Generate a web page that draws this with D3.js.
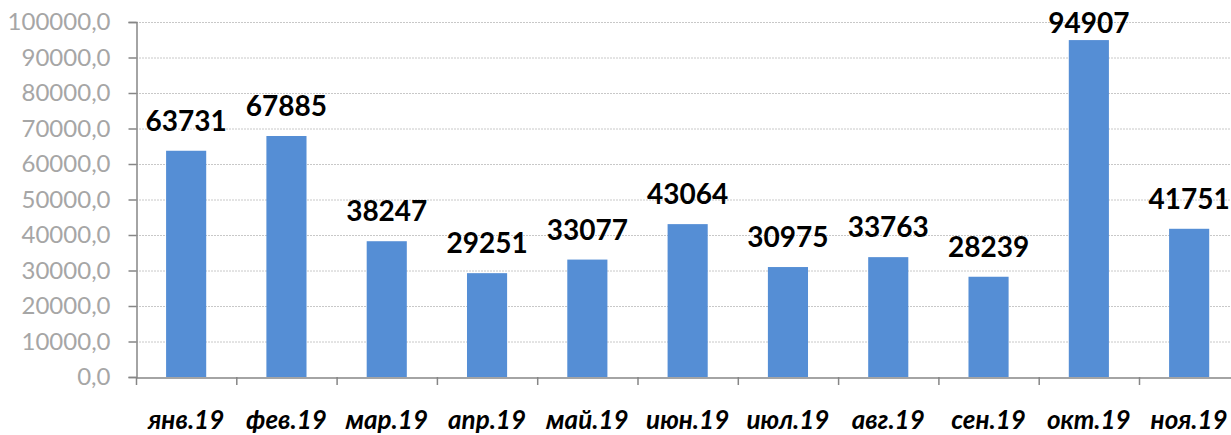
<!DOCTYPE html>
<html>
<head>
<meta charset="utf-8">
<script src="https://cdn.jsdelivr.net/npm/d3@7"></script>
<style>
  body { margin: 0; background: #fff; }
  svg { display: block; }
</style>
</head>
<body>
<svg id="chart" width="1231" height="435"></svg>
<script>
// data
const months = ["янв.19", "фев.19", "мар.19", "апр.19", "май.19", "июн.19",
  "июл.19", "авг.19", "сен.19", "окт.19", "ноя.19"];
const values = [63731, 67885, 38247, 29251, 33077, 43064, 30975, 33763, 28239, 94907, 41751];
const yTicks = [0, 10000, 20000, 30000, 40000, 50000, 60000, 70000, 80000, 90000, 100000];

const svg = d3.select("#chart"),
  width = +svg.attr("width"),
  height = +svg.attr("height");

const x0 = 136, step = 100.3;
const x = d3.scaleBand()
  .domain(months)
  .range([x0, x0 + step * months.length]);

const y = d3.scaleLinear()
  .domain([0, 100000])
  .range([377, 22]);

const fmt = (v) => d3.format(".1f")(v).replace(".", ",");

// gridlines
svg.append("g")
  .selectAll("line")
  .data(yTicks.filter((d) => d > 0))
  .join("line")
  .attr("x1", x0)
  .attr("x2", width)
  .attr("y1", (d) => y(d) + 0.5)
  .attr("y2", (d) => y(d) + 0.5)
  .attr("stroke", "#c8c8c8")
  .attr("stroke-width", 1)
  .attr("stroke-dasharray", "2,1");

// bars
svg.append("g")
  .selectAll("rect")
  .data(values)
  .join("rect")
  .attr("x", (d, i) => x(months[i]) + x.bandwidth() * 0.3)
  .attr("width", x.bandwidth() * 0.4)
  .attr("y", (d) => y(d))
  .attr("height", (d) => y(0) - y(d))
  .attr("fill", "#558ed5");

// y axis
const yAxis = svg.append("g")
  .attr("transform", `translate(${x0 + 0.5},0)`)
  .call(d3.axisLeft(y).tickValues(yTicks).tickSize(8).tickPadding(18).tickFormat(fmt));
yAxis.select(".domain").attr("stroke", "#868686").attr("stroke-width", 1.5);
yAxis.selectAll(".tick line").attr("stroke", "#868686").attr("stroke-width", 1.5);
yAxis.selectAll("text")
  .attr("fill", "#a6a6a6")
  .style("font-family", "Lato, 'Open Sans', sans-serif")
  .style("font-size", "24px");

// x axis
const xAxis = svg.append("g")
  .attr("transform", `translate(0,${y(0) + 0.5})`)
  .call(d3.axisBottom(x).tickSize(0).tickFormat(""));
xAxis.select(".domain").attr("stroke", "#868686").attr("stroke-width", 1.5);

svg.append("g")
  .selectAll("line")
  .data(d3.range(months.length + 1))
  .join("line")
  .attr("x1", (i) => x0 + i * step + 0.5)
  .attr("x2", (i) => x0 + i * step + 0.5)
  .attr("y1", y(0))
  .attr("y2", y(0) + 8)
  .attr("stroke", "#868686")
  .attr("stroke-width", 1.5);

// category labels
svg.append("g")
  .selectAll("text")
  .data(months)
  .join("text")
  .attr("x", (d) => x(d) + x.bandwidth() / 2)
  .attr("y", 429)
  .attr("text-anchor", "middle")
  .style("font-family", "Lato, 'Open Sans', sans-serif")
  .style("font-weight", "bold")
  .style("font-style", "italic")
  .style("font-size", "26px")
  .attr("fill", "#000")
  .text((d) => d);

// value labels (kept inside the plot at the top, like Excel does)
svg.append("g")
  .selectAll("text")
  .data(values)
  .join("text")
  .attr("x", (d, i) => x(months[i]) + x.bandwidth() / 2)
  .attr("y", (d) => Math.max(y(d) - 20, 33))
  .attr("text-anchor", "middle")
  .style("font-family", "Lato, 'Open Sans', sans-serif")
  .style("font-weight", "bold")
  .style("font-size", "28px")
  .attr("fill", "#000")
  .text((d) => d);
</script>
</body>
</html>
